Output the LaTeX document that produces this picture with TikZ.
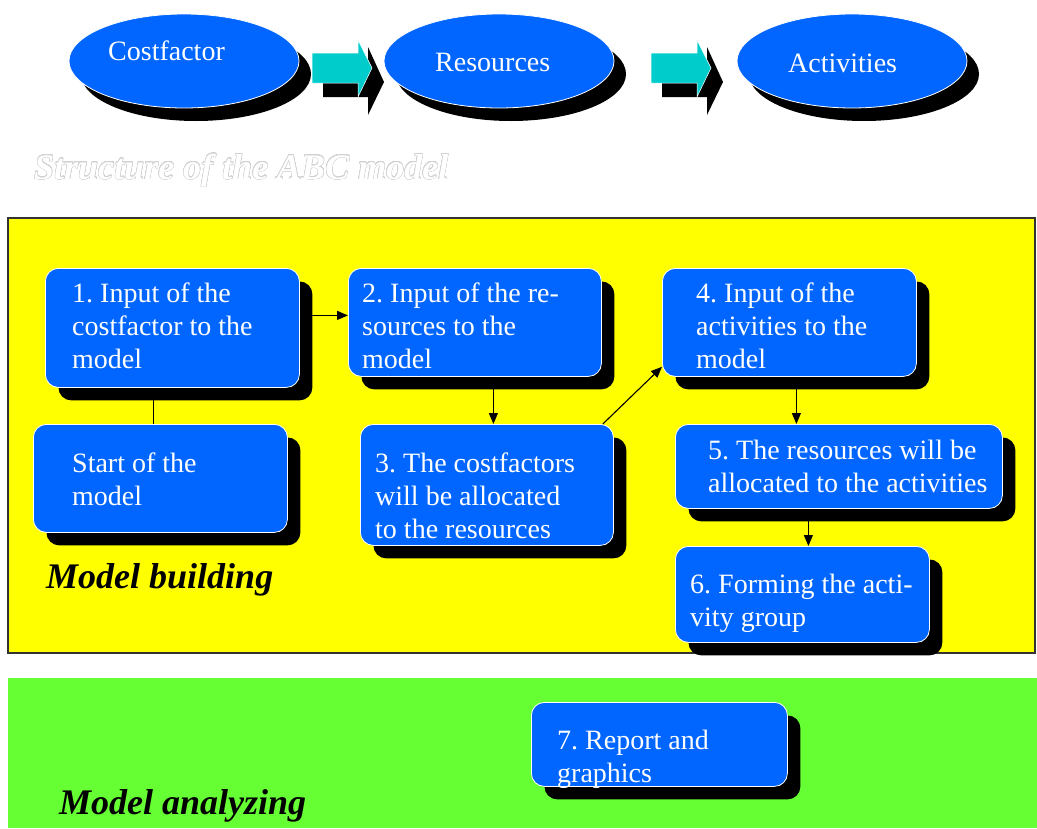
\documentclass[tikz,border=0pt]{standalone}
\usepackage{fontspec}
\setmainfont{Liberation Serif}
\usepackage{contour}
\usetikzlibrary{shapes.geometric,shadows,arrows.meta}

\definecolor{boxblue}{HTML}{0066FF}
\definecolor{arrowcyan}{HTML}{00CCCC}
\definecolor{panelyellow}{HTML}{FFFF00}
\definecolor{panelgreen}{HTML}{66FF33}

% left-aligned lines, the box's baseline is the first line's baseline
\newcommand\textlines[1]{\vtop{\baselineskip=33pt\lineskiplimit=-100pt\lineskip=0pt
  \halign{##\hfil\cr#1\crcr}}}

\contourlength{0.4pt}
\contournumber{24}
\frenchspacing

\begin{document}
\begin{tikzpicture}[x=1pt,y=-1pt,
  stepbox/.style={draw=white, line width=0.8pt, fill=boxblue, rounded corners=13pt,
    inner sep=0pt, anchor=north west,
    drop shadow={shadow xshift=13pt, shadow yshift=-13pt, opacity=1, fill=black}},
  oval/.style={ellipse, draw=white, line width=0.8pt, fill=boxblue, inner sep=0pt,
    minimum width=230pt, minimum height=94pt,
    drop shadow={shadow xshift=12pt, shadow yshift=-13pt, opacity=1, fill=black}},
  boxtext/.style={anchor=base west, inner sep=0pt, text=white,
    font=\fontsize{28}{33}\selectfont},
  paneltitle/.style={anchor=base west, inner sep=0pt,
    font=\fontsize{36}{40}\selectfont\bfseries\itshape},
  flow/.style={line width=1.1pt, -{Triangle[length=11pt,width=9pt]}},
  plainline/.style={line width=1.1pt},
  blockarrow/.pic={
    \fill[black] (11,7) -- (56,7) -- (56,-6) -- (72,29) -- (56,62) -- (56,44) -- (11,44) -- cycle;
    \filldraw[fill=arrowcyan, draw=white, line width=0.5pt]
      (0,0) -- (46,0) -- (46,-13) -- (60,15) -- (46,44) -- (46,30) -- (0,30) -- cycle;
  },
]
\useasboundingbox (0,0) rectangle (1037,828);
\fill[white] (0,0) rectangle (1037,828);

% ---- top row: cost factor -> resources -> activities
\node[oval] (e1) at (184,61) {};
\node[oval] (e2) at (499,61) {};
\node[oval] (e3) at (852,61) {};
\node[boxtext] (e1t) at (108,60) {Costfactor};
\node[boxtext] (e2t) at (435,71) {Resources};
\node[boxtext] (e3t) at (788,72) {Activities};
\pic at (312,53) {blockarrow};
\pic at (651,53) {blockarrow};

\node[anchor=base west, inner sep=0pt, text=white,
  font=\fontsize{36}{40}\selectfont\bfseries\itshape] (title) at (34,179)
  {\contour{black!18}{Structure of the ABC model}};

% ---- panels
\filldraw[fill=panelyellow, draw=black!80, line width=1.3pt] (8,218) rectangle (1035,653);
\fill[panelgreen] (8,678) rectangle (1037,828);

% ---- model building steps
\node[stepbox, minimum width=254pt, minimum height=119pt] (b1) at (45,268) {};
\node[stepbox, minimum width=253pt, minimum height=108pt] (b2) at (348,268) {};
\node[stepbox, minimum width=254pt, minimum height=108pt] (b4) at (662,268) {};
\node[stepbox, minimum width=254pt, minimum height=108pt] (b0) at (33,424) {};
\node[stepbox, minimum width=253pt, minimum height=121pt] (b3) at (360,424) {};
\node[stepbox, minimum width=327pt, minimum height=84pt] (b5) at (675,424) {};
\node[stepbox, minimum width=254pt, minimum height=96pt] (b6) at (675,546) {};
\node[stepbox, minimum width=256pt, minimum height=84pt] (b7) at (531,702) {};

\node[boxtext] (t1) at (72,302) {\textlines{1. Input of the\cr costfactor to the\cr model}};
\node[boxtext] (t2) at (362,302) {\textlines{2. Input of the re-\cr sources to the\cr model}};
\node[boxtext] (t4) at (696,302) {\textlines{4. Input of the\cr activities to the\cr model}};
\node[boxtext] (t0) at (72,472) {\textlines{Start of the\cr model}};
\node[boxtext] (t3) at (375,472) {\textlines{3. The costfactors\cr will be allocated\cr to the resources}};
\node[boxtext] (t5) at (708,459) {\textlines{5. The resources will be\cr allocated to the activities}};
\node[boxtext] (t6) at (690,593) {\textlines{6. Forming the acti-\cr vity group}};
\node[boxtext] (t7) at (557,749) {\textlines{7. Report and\cr graphics}};

% ---- connectors
\draw[flow] ([yshift=12.5pt]b1.east) -- ([yshift=12.5pt]b1.east -| b2.west);
\draw[plainline] ([xshift=-19pt]b1.south) -- ([xshift=-19pt]b1.south |- b0.north);
\draw[flow] ([xshift=18.5pt]b2.south) -- ([xshift=18.5pt]b2.south |- b3.north);
\draw[flow] ([xshift=-11pt]b3.north east) -- ([yshift=10pt]b4.south west);
\draw[flow] ([xshift=7pt]b4.south) -- ([xshift=7pt]b4.south |- b5.north);
\draw[flow] ([xshift=-30.5pt]b5.south) -- ([xshift=-30.5pt]b5.south |- b6.north);

% ---- panel titles
\node[paneltitle] (build) at (46,588) {Model building};
\node[paneltitle] (analyze) at (59,814) {Model analyzing};
\end{tikzpicture}
\end{document}
